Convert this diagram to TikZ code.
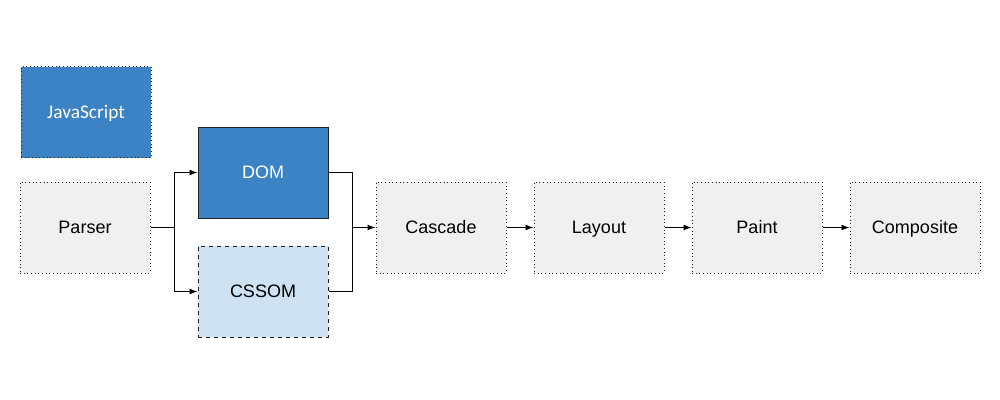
\documentclass[tikz,border=0pt]{standalone}
\usepackage{fontspec}
\setmainfont{Liberation Sans}
\newfontfamily\jsfont{Carlito}
\usetikzlibrary{arrows.meta}
\definecolor{domblue}{HTML}{3C83C6}
\definecolor{cssblue}{HTML}{CFE2F3}
\definecolor{stagegray}{HTML}{F0F0F0}
\definecolor{edge}{HTML}{222222}
\begin{document}
\begin{tikzpicture}[x=0.75pt,y=-0.75pt,
  box/.style={minimum width=97.5pt,minimum height=68.25pt,inner sep=0pt,
    font=\fontsize{13.5}{16}\selectfont,text height=9.7pt,text depth=0pt,
    line width=0.75pt},
  stage/.style={box,draw=edge,fill=stagegray,dotted},
  flow/.style={line width=0.75pt,-{Latex[length=6pt,width=4.5pt]}}]
\useasboundingbox (0,0) rectangle (1000,400);
\fill[white] (0,0) rectangle (1000,400);
% script box
\node[box,draw=edge,fill=domblue,dotted,text=white,
  font=\jsfont\fontsize{14.5}{17}\selectfont,text height=9.3pt] (js) at (86,112) {JavaScript};
% pipeline stages
\node[stage] (parser) at (85,227.5) {Parser};
\node[box,draw=edge,fill=domblue,text=white] (dom) at (263,172.5) {DOM};
\node[box,draw=edge,fill=cssblue,dashed] (cssom) at (263,291.5) {CSSOM};
\node[stage] (cascade) at (441,227.5) {Cascade};
\node[stage] (layout) at (599,227.5) {Layout};
\node[stage] (paint) at (757,227.5) {Paint};
\node[stage] (composite) at (915,227.5) {Composite};
% connectors
\coordinate (split) at (174,227.5);
\coordinate (join) at (352,227.5);
\draw[line width=0.75pt] (parser.east) -- (split);
\draw[flow] (split) |- (dom.west);
\draw[flow] (split) |- (cssom.west);
\draw[line width=0.75pt] (dom.east) -| (join);
\draw[line width=0.75pt] (cssom.east) -| (join);
\draw[flow] (join) -- (cascade.west);
\draw[flow] (cascade) -- (layout);
\draw[flow] (layout) -- (paint);
\draw[flow] (paint) -- (composite);
\end{tikzpicture}
\end{document}
